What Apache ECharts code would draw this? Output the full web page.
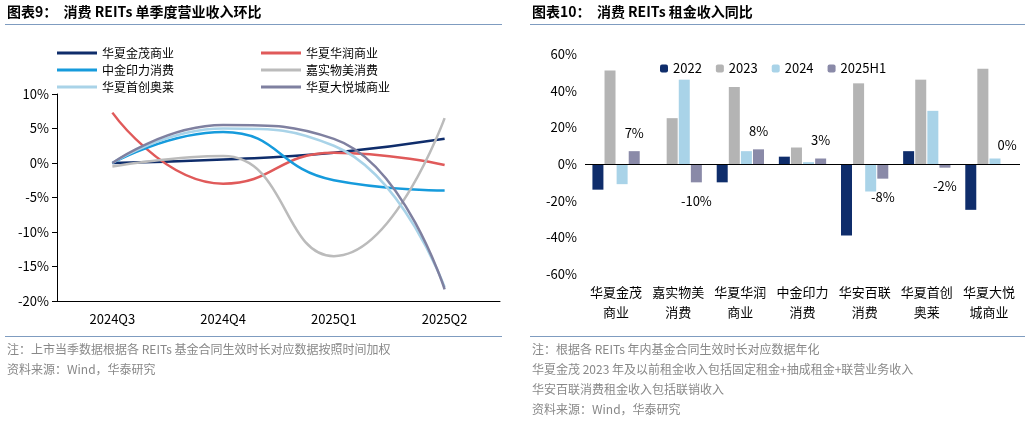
<!DOCTYPE html>
<html lang="zh">
<head>
<meta charset="UTF-8">
<script src="https://cdn.jsdelivr.net/npm/echarts@6/dist/echarts.min.js"></script>
<style>
body{margin:0;background:#fff;}
#main{width:1030px;height:421px;}
</style>
</head>
<body>
<div id="main"></div>
<script type="text/javascript">
// 左图：单季度营业收入环比
var quarters = ['2024Q3', '2024Q4', '2025Q1', '2025Q2'];
var jinmao = [0, 0.5, 1.5, 3.5];
var huarun = [7.3, -3, 1.5, -0.3];
var yinli = [0, 4.5, -2.5, -4];
var wumei = [-0.5, 1, -13.5, 6.5];
var shouchuang = [0, 5, 2.5, -18];
var dayuecheng = [0, 5.5, 3.5, -18.3];

// 右图：租金收入同比
var funds = ['华夏金茂\n商业', '嘉实物美\n消费', '华夏华润\n商业', '中金印力\n消费', '华安百联\n消费', '华夏首创\n奥莱', '华夏大悦\n城商业'];
var y2022 = [-14, null, -10, 4, -39, 7, -25];
var y2023 = [51, 25, 42, 9, 44, 46, 52];
var y2024 = [-11, 46, 7, 1, -15, 29, 3];
var y2025H1 = [7, -10, 8, 3, -8, -2, 0];

var font = '"Noto Sans CJK SC", sans-serif';
var chart = echarts.init(document.getElementById('main'));

function line(name, data, color) {
    return {name: name, type: 'line', smooth: 0.5, symbol: 'none', data: data,
        xAxisIndex: 0, yAxisIndex: 0, lineStyle: {color: color, width: 2.5}, itemStyle: {color: color}};
}
function bar(name, data, color, withLabel) {
    var s = {name: name, type: 'bar', data: data, xAxisIndex: 1, yAxisIndex: 1,
        barWidth: 11, barGap: '10%', itemStyle: {color: color}};
    if (withLabel) {
        s.label = {show: true, fontSize: 13, color: '#000', fontFamily: font, distance: 12,
            formatter: function (p) { return p.value + '%'; },
            position: 'top'};
        s.data = data.map(function (v) {
            return {value: v, label: {position: v < 0 ? 'bottom' : 'top'}};
        });
        // 零轴线
        s.markLine = {silent: true, symbol: 'none', label: {show: false},
            lineStyle: {color: '#000', type: 'solid', width: 1}, data: [{yAxis: 0}]};
    }
    return s;
}
var noteStyle = {fill: '#888', font: '12px ' + font};

option = {
    animation: false,
    textStyle: {fontFamily: font},
    graphic: [
        {type: 'text', left: 7, top: 5, style: {text: '图表9：  消费 REITs 单季度营业收入环比', fill: '#000', font: 'bold 14px ' + font}},
        {type: 'text', left: 532, top: 5, style: {text: '图表10：  消费 REITs 租金收入同比', fill: '#000', font: 'bold 14px ' + font}},
        {type: 'rect', shape: {x: 5, y: 24, width: 497, height: 1}, style: {fill: '#7f9cc0'}},
        {type: 'rect', shape: {x: 530, y: 24, width: 495, height: 1}, style: {fill: '#7f9cc0'}},
        {type: 'rect', shape: {x: 5, y: 336, width: 497, height: 1}, style: {fill: '#7f9cc0'}},
        {type: 'rect', shape: {x: 530, y: 336, width: 495, height: 1}, style: {fill: '#7f9cc0'}},
        {type: 'text', left: 7, top: 343, style: Object.assign({text: '注：上市当季数据根据各 REITs 基金合同生效时长对应数据按照时间加权'}, noteStyle)},
        {type: 'text', left: 7, top: 363, style: Object.assign({text: '资料来源：Wind，华泰研究'}, noteStyle)},
        {type: 'text', left: 532, top: 343, style: Object.assign({text: '注：根据各 REITs 年内基金合同生效时长对应数据年化'}, noteStyle)},
        {type: 'text', left: 532, top: 363, style: Object.assign({text: '华夏金茂 2023 年及以前租金收入包括固定租金+抽成租金+联营业务收入'}, noteStyle)},
        {type: 'text', left: 532, top: 383, style: Object.assign({text: '华安百联消费租金收入包括联销收入'}, noteStyle)},
        {type: 'text', left: 532, top: 403, style: Object.assign({text: '资料来源：Wind，华泰研究'}, noteStyle)}
    ],
    legend: [
        {data: ['华夏金茂商业', '中金印力消费', '华夏首创奥莱'], orient: 'vertical', left: 52, top: 42,
            itemWidth: 40, itemHeight: 3, itemGap: 5, icon: 'rect', textStyle: {fontSize: 12, color: '#000'}},
        {data: ['华夏华润商业', '嘉实物美消费', '华夏大悦城商业'], orient: 'vertical', left: 256, top: 42,
            itemWidth: 40, itemHeight: 3, itemGap: 5, icon: 'rect', textStyle: {fontSize: 12, color: '#000'}},
        {data: ['2022', '2023', '2024', '2025H1'], left: 655, top: 57, itemWidth: 8, itemHeight: 8,
            itemGap: 14, textStyle: {fontSize: 13, color: '#000'}}
    ],
    grid: [
        {left: 57, right: 530, top: 94, bottom: 120},
        {left: 585, right: 10, top: 54, bottom: 147}
    ],
    xAxis: [
        {gridIndex: 0, type: 'category', data: quarters, axisLine: {onZero: false, lineStyle: {color: '#000'}},
            axisTick: {show: false}, axisLabel: {color: '#000', fontSize: 13, margin: 12}},
        {gridIndex: 1, type: 'category', data: funds, position: 'bottom',
            axisLine: {show: false, onZero: false}, axisTick: {show: false},
            axisLabel: {color: '#000', fontSize: 13, lineHeight: 20, margin: 8, interval: 0}}
    ],
    yAxis: [
        {gridIndex: 0, type: 'value', min: -20, max: 10, interval: 5,
            axisLine: {show: true, lineStyle: {color: '#000'}}, axisTick: {show: true, inside: false},
            splitLine: {show: false}, axisLabel: {color: '#000', fontSize: 13, formatter: '{value}%'}},
        {gridIndex: 1, type: 'value', min: -60, max: 60, interval: 20,
            axisLine: {show: false}, axisTick: {show: false},
            splitLine: {show: false}, axisLabel: {color: '#000', fontSize: 13, formatter: '{value}%'}}
    ],
    series: [
        line('华夏金茂商业', jinmao, '#0f2d6b'),
        line('华夏华润商业', huarun, '#e05a5a'),
        line('中金印力消费', yinli, '#169bdc'),
        line('嘉实物美消费', wumei, '#bbbbbb'),
        line('华夏首创奥莱', shouchuang, '#a9d3e8'),
        line('华夏大悦城商业', dayuecheng, '#7f80a0'),
        bar('2022', y2022, '#0f2d6b'),
        bar('2023', y2023, '#b4b4b4'),
        bar('2024', y2024, '#a9d3e8'),
        bar('2025H1', y2025H1, '#8a8aa8', true)
    ]
};
chart.setOption(option);
</script>
</body>
</html>
